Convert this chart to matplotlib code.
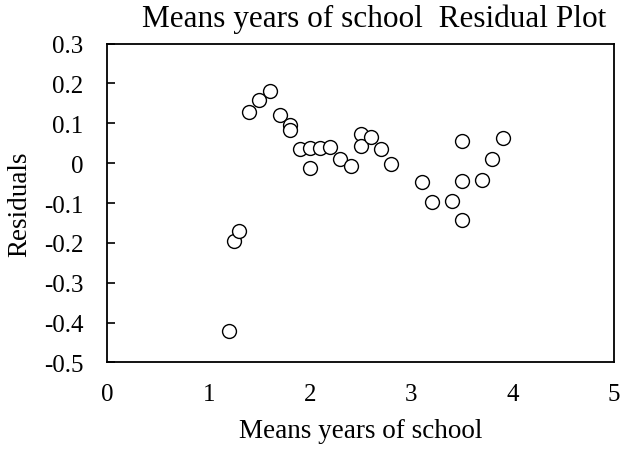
import matplotlib
matplotlib.use("Agg")
import matplotlib.pyplot as plt

plt.rcParams['font.family'] = ['Liberation Serif', 'DejaVu Serif']

x_vals = [1.2, 1.25, 1.3, 1.4, 1.5, 1.6, 1.7, 1.8, 1.8, 1.9, 2.0, 2.0, 2.1, 2.2,
          2.3, 2.4, 2.5, 2.5, 2.6, 2.7, 2.8, 3.1, 3.2, 3.4, 3.5, 3.5, 3.5, 3.7,
          3.8, 3.9]
residuals = [-0.42, -0.196, -0.17, 0.128, 0.158, 0.181, 0.121, 0.096, 0.083, 0.036,
             0.038, -0.012, 0.038, 0.041, 0.011, -0.007, 0.073, 0.043, 0.066, 0.036,
             -0.002, -0.047, -0.097, -0.094, 0.056, -0.044, -0.142, -0.042, 0.011,
             0.063]
x_ticks = [0, 1, 2, 3, 4, 5]
y_ticks = [0.3, 0.2, 0.1, 0.0, -0.1, -0.2, -0.3, -0.4, -0.5]
y_tick_labels = ['0.3', '0.2', '0.1', '0', '-0.1', '-0.2', '-0.3', '-0.4', '-0.5']

fig = plt.figure(figsize=(6.21, 4.52), dpi=100)
ax = fig.add_axes([0.1731, 0.1958, 0.8156, 0.7057])
ax.plot(x_vals, residuals, linestyle='none', marker='o', markersize=10,
        markerfacecolor='white', markeredgecolor='black', markeredgewidth=1.0)
ax.set_xlim(0, 5)
ax.set_ylim(-0.5, 0.3)
ax.set_xticks(x_ticks)
ax.set_xticklabels([str(t) for t in x_ticks])
ax.set_yticks(y_ticks)
ax.set_yticklabels(y_tick_labels)
ax.tick_params(axis='x', length=0, labelsize=18, pad=15)
ax.tick_params(axis='y', direction='in', length=6, width=1.2, labelsize=18, pad=17.5)
for s in ax.spines.values():
    s.set_linewidth(1.3)
ax.set_xlabel('Means years of school', fontsize=19.5, labelpad=9)
ax.set_ylabel('Residuals', fontsize=19.5, labelpad=8)
ax.set_title('Means years of school  Residual Plot', fontsize=22.5, pad=12.4, x=0.526)
fig.savefig('out.png', dpi=100)
